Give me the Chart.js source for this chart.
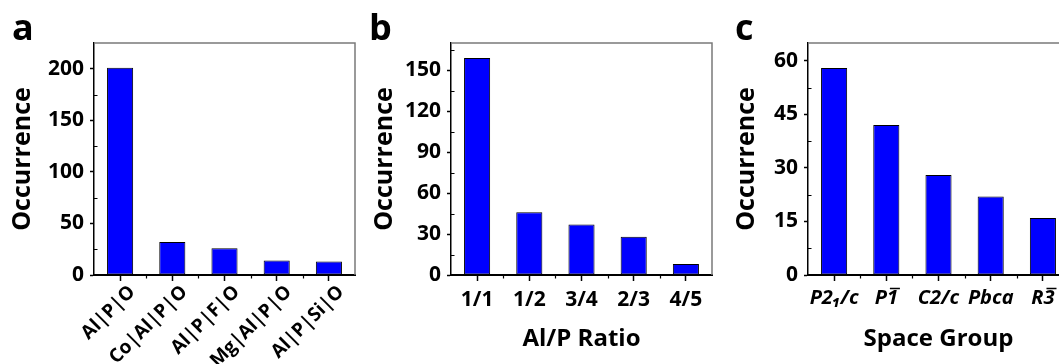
<!DOCTYPE html>
<html>
<head>
<meta charset="utf-8">
<script src="https://cdn.jsdelivr.net/npm/chart.js@4.4.1/dist/chart.umd.min.js"></script>
<style>
  html, body { margin: 0; padding: 0; background: #fff; overflow: hidden; }
  #wrap { position: relative; width: 1059px; height: 364px; overflow: hidden; }
  canvas { position: absolute; top: 0; }
</style>
</head>
<body>
<div id="wrap">
  <canvas id="chart-a" width="358" height="364" style="left:0px"></canvas>
  <canvas id="chart-b" width="356" height="364" style="left:358px"></canvas>
  <canvas id="chart-c" width="362" height="364" style="left:714px"></canvas>
</div>
<script>
// ===== DATA =====
const compLabels  = ["Al|P|O", "Co|Al|P|O", "Al|P|F|O", "Mg|Al|P|O", "Al|P|Si|O"];
const compCounts  = [201, 32, 26, 14, 13];
const compTicks   = [0, 50, 100, 150, 200];
const compMinor   = [25, 75, 125, 175];

const ratioLabels = ["1/1", "1/2", "3/4", "2/3", "4/5"];
const ratioCounts = [159, 46, 37, 28, 8];
const ratioTicks  = [0, 30, 60, 90, 120, 150];
const ratioMinor  = [15, 45, 75, 105, 135, 165];

// space group symbols; groupBar marks the ones whose last digit carries a bar (rotoinversion)
const groupLabels = ["P2\u2081/c", "P1", "C2/c", "Pbca", "R3"];
const groupBar    = [false, true, false, false, true];
const groupCounts = [58, 42, 28, 22, 16];
const groupTicks  = [0, 15, 30, 45, 60];
const groupMinor  = [7.5, 22.5, 37.5, 52.5];

const FONT = "'Open Sans', sans-serif";
const BLUE = "#0000ff";

// ===== PANEL EXTRAS: minor ticks, grey frame, bars over digits, panel letter =====
const panelExtras = {
  id: "panelExtras",
  afterDraw(chart, args, opts) {
    const { ctx, chartArea: area, scales: { x, y } } = chart;
    ctx.save();
    ctx.strokeStyle = "#000";
    ctx.lineWidth = 1.2;
    ctx.beginPath();
    opts.minor.forEach(v => {
      const py = Math.round(y.getPixelForValue(v)) + 0.5;
      ctx.moveTo(area.left, py);
      ctx.lineTo(area.left + 3.5, py);
    });
    for (let i = 1; i < opts.count; i++) {
      const px = Math.round(x.getPixelForValue(i - 0.5)) + 0.5;
      ctx.moveTo(px, area.bottom);
      ctx.lineTo(px, area.bottom + 3.5);
    }
    ctx.stroke();

    // overbars on rotoinversion symbols
    if (opts.bars) {
      const xo = x.options;
      const size = xo.ticks.font.size;
      ctx.font = `italic bold ${size}px ${FONT}`;
      const midY = area.bottom + xo.grid.tickLength + xo.ticks.padding + size * 0.6;
      const barY = Math.round(midY - size * 0.52) + 0.5;
      ctx.lineWidth = 1.6;
      ctx.beginPath();
      opts.bars.forEach((hasBar, i) => {
        if (!hasBar) return;
        const label = chart.data.labels[i];
        const w = ctx.measureText(label).width;
        const w1 = ctx.measureText(label.slice(-1)).width;
        const px = x.getPixelForValue(i);
        const end = px + w / 2 + 2;
        ctx.moveTo(end - w1 + 1, barY);
        ctx.lineTo(end, barY);
      });
      ctx.stroke();
    }

    ctx.strokeStyle = "#7a7a7a";
    ctx.lineWidth = 1.5;
    ctx.beginPath();
    ctx.moveTo(area.left, area.top);
    ctx.lineTo(area.right, area.top);
    ctx.lineTo(area.right, area.bottom);
    ctx.stroke();

    ctx.fillStyle = "#000";
    ctx.font = `bold 36px ${FONT}`;
    ctx.textBaseline = "alphabetic";
    ctx.fillText(opts.letter, opts.letterX, 40);
    ctx.restore();
  }
};

function makePanel(id, p) {
  return new Chart(document.getElementById(id), {
    type: "bar",
    data: {
      labels: p.labels,
      datasets: [{
        data: p.values,
        backgroundColor: BLUE,
        borderColor: "#000",
        borderWidth: 1,
        borderSkipped: false,
        barPercentage: 0.5,
        categoryPercentage: 1.0
      }]
    },
    options: {
      responsive: false,
      animation: false,
      layout: { padding: { top: 43, right: p.padRight, left: 0, bottom: 0 } },
      plugins: {
        legend: { display: false },
        tooltip: { enabled: false },
        panelExtras: { minor: p.minor, count: p.labels.length, letter: p.letter, letterX: p.letterX, bars: p.bars }
      },
      scales: {
        x: {
          afterFit(scale) { scale.height = 89; },
          grid: { offset: false, drawOnChartArea: false, tickLength: 6, tickWidth: 1.5, tickColor: "#000" },
          border: { color: "#000", width: 2 },
          ticks: {
            color: "#000",
            autoSkip: false,
            minRotation: p.rotation,
            maxRotation: p.rotation,
            padding: p.xPad,
            labelOffset: p.xShift || 0,
            font: { family: FONT, size: p.xSize, weight: "bold", style: p.italic ? "italic" : "normal" }
          },
          title: {
            display: !!p.xTitle,
            text: p.xTitle,
            color: "#000",
            padding: { bottom: 10 },
            font: { family: FONT, size: 24, weight: "bold" }
          }
        },
        y: {
          min: 0,
          max: p.max,
          afterFit(scale) { scale.width = p.yWidth; },
          afterBuildTicks(scale) { scale.ticks = p.ticks.map(v => ({ value: v })); },
          grid: { drawOnChartArea: false, tickLength: 4, tickWidth: 1.5, tickColor: "#000" },
          border: { color: "#000", width: 1.5 },
          ticks: {
            color: "#000",
            padding: 6,
            font: { family: FONT, size: 21, weight: "bold" }
          },
          title: {
            display: true,
            text: "Occurrence",
            color: "#000",
            padding: { top: p.yTitlePad },
            font: { family: FONT, size: 25, weight: "bold" }
          }
        }
      }
    },
    plugins: [panelExtras]
  });
}

makePanel("chart-a", {
  labels: compLabels, values: compCounts, ticks: compTicks, minor: compMinor, max: 225,
  letter: "a", letterX: 12, padRight: 3, yWidth: 94, yTitlePad: 8,
  rotation: 45, xPad: 0, xShift: 12, xSize: 19, xTitle: ""
});

makePanel("chart-b", {
  labels: ratioLabels, values: ratioCounts, ticks: ratioTicks, minor: ratioMinor, max: 170,
  letter: "b", letterX: 11, padRight: 2, yWidth: 93, yTitlePad: 12,
  rotation: 0, xPad: 6, xSize: 21, xTitle: "Al/P Ratio"
});

makePanel("chart-c", {
  labels: groupLabels, values: groupCounts, ticks: groupTicks, minor: groupMinor, max: 65,
  letter: "c", letterX: 21, padRight: 7, yWidth: 94, yTitlePad: 18,
  rotation: 0, xPad: 5, xSize: 20, xTitle: "Space Group", italic: true, bars: groupBar
});
</script>
</body>
</html>
